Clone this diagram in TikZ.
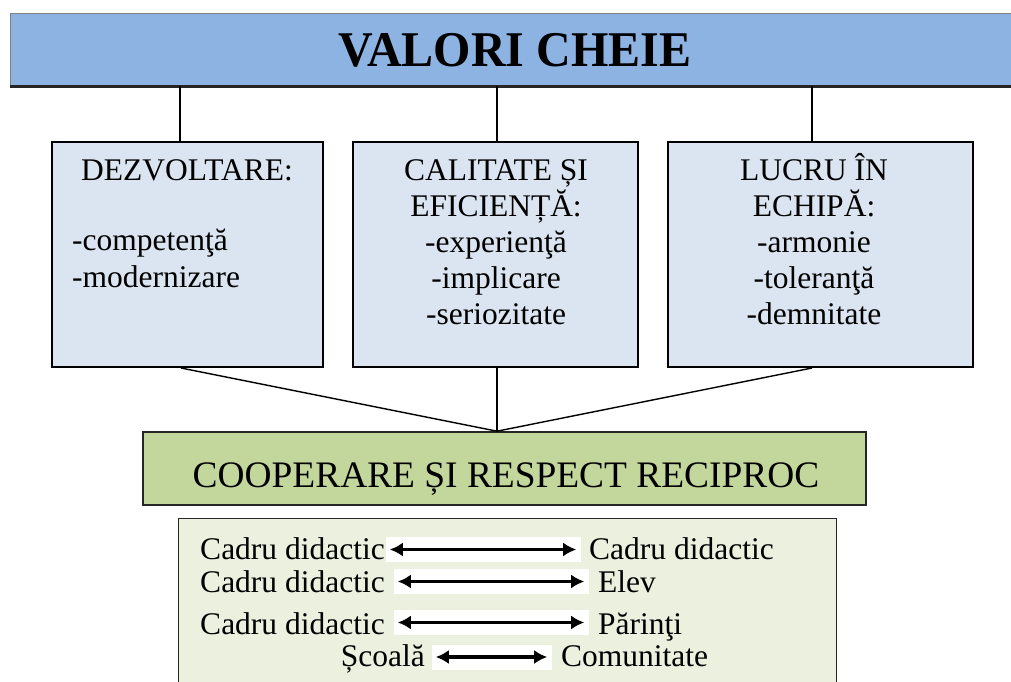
\documentclass[tikz,border=0pt]{standalone}
\usepackage{fontspec}
\setmainfont{Liberation Serif}
\newfontfamily\titlefont[FakeStretch=0.96]{Liberation Serif}
\usetikzlibrary{arrows.meta}
\definecolor{barblue}{HTML}{8DB3E2}
\definecolor{boxblue}{HTML}{DBE5F1}
\definecolor{coopgreen}{HTML}{C3D69B}
\definecolor{relgreen}{HTML}{EBF1DE}
\definecolor{framegray}{HTML}{262626}

\begin{document}
\begin{tikzpicture}
 [line cap=butt,line join=miter,x=1pt,y=-1pt,
 valbox/.style={draw=black,line width=2pt,fill=boxblue,inner sep=0pt,minimum height=225pt},
 boxtxt/.style={anchor=base,inner sep=0pt,font=\fontsize{31.5}{36}\selectfont},
 reltxt/.style={inner sep=0pt,font=\fontsize{31.5}{36}\selectfont},
 whitebox/.style={fill=white,inner sep=0pt,minimum height=25pt},
 relarrow/.style={{Latex[length=13pt,width=14pt]}-{Latex[length=13pt,width=14pt]},line width=3.2pt},
 link/.style={draw=black,line width=1.4pt}]
\useasboundingbox (0,0) rectangle (1011,682);

% title bar
\node[fill=barblue,draw=gray,line width=1pt,inner sep=0pt,minimum width=1010pt,minimum height=72pt,
  font=\titlefont\bfseries\fontsize{50}{50}\selectfont] (bar) at (515,50) {VALORI CHEIE};
\draw[line width=3pt,framegray] (bar.south west) -- (bar.south east);

% the three boxes
\node[valbox,minimum width=271pt] (dezv) at (187.5,254.5) {};
\node[valbox,minimum width=285pt] (calit) at (495.5,254.5) {};
\node[valbox,minimum width=305pt] (lucru) at (820.5,254.5) {};

\node[boxtxt] (dezv1) at (187,180) {DEZVOLTARE:};
\node[boxtxt,anchor=base west] (dezv2) at (72,250) {-competenţă};
\node[boxtxt,anchor=base west] (dezv3) at (72,287) {-modernizare};

\foreach \t [count=\i] in {CALITATE ȘI,EFICIENȚĂ:,-experienţă,-implicare,-seriozitate}
{
	\node[boxtxt] (calit\i) at (496,{180+36*(\i-1)}) {\t};
}
\foreach \t [count=\i] in {LUCRU ÎN,ECHIPĂ:,-armonie,-toleranţă,-demnitate}
{
	\node[boxtxt] (lucru\i) at (814,{180+36*(\i-1)}) {\t};
}

% cooperation box
\node[draw=framegray,line width=1.6pt,fill=coopgreen,inner sep=0pt,minimum width=723pt,minimum height=73pt] (coop) at (504.5,468.5) {};
\node[anchor=base,inner sep=0pt,font=\fontsize{37.4}{37.4}\selectfont] (cooptxt) at (506,487) {COOPERARE ȘI RESPECT RECIPROC};

% links
\draw[link] ([xshift=-7.5pt]dezv.north) -- ([xshift=-7.5pt]dezv.north |- bar.south);
\draw[link] ([xshift=1.5pt]calit.north) -- ([xshift=1.5pt]calit.north |- bar.south);
\draw[link] ([xshift=-8.5pt]lucru.north) -- ([xshift=-8.5pt]lucru.north |- bar.south);
\draw[link] ([xshift=-6.5pt]dezv.south) -- ([xshift=-7.5pt]coop.north);
\draw[link] ([xshift=1.5pt]calit.south) -- ([xshift=-7.5pt]coop.north);
\draw[link] ([xshift=-8.5pt]lucru.south) -- ([xshift=-7.5pt]coop.north);

% relations
\node[draw=framegray,line width=1pt,fill=relgreen,inner sep=0pt,minimum width=658pt,minimum height=200pt,anchor=north west] (rel) at (178,518) {};

\node[whitebox,minimum width=195pt] (w1) at (483.5,549.5) {};
\node[whitebox,minimum width=195pt] (w2) at (491.5,581.5) {};
\node[whitebox,minimum width=195pt] (w3) at (491.5,622.5) {};
\node[whitebox,minimum width=120pt] (w4) at (492,657) {};

\node[reltxt,anchor=base east] (l1) at (385,559) {Cadru didactic};
\node[reltxt,anchor=base west] (r1) at (589,559) {Cadru didactic};
\node[reltxt,anchor=base east] (l2) at (385,592) {Cadru didactic};
\node[reltxt,anchor=base west] (r2) at (598,592) {Elev};
\node[reltxt,anchor=base east] (l3) at (385,634) {Cadru didactic};
\node[reltxt,anchor=base west] (r3) at (598,634) {Părinţi};
\node[reltxt,anchor=base east] (l4) at (425,666) {Școală};
\node[reltxt,anchor=base west] (r4) at (561,666) {Comunitate};

\foreach \w in {w1,w2,w3,w4}
{
	\draw[relarrow] ([xshift=4pt]\w.west) -- ([xshift=-5pt]\w.east);
}

\end{tikzpicture}
\end{document}
